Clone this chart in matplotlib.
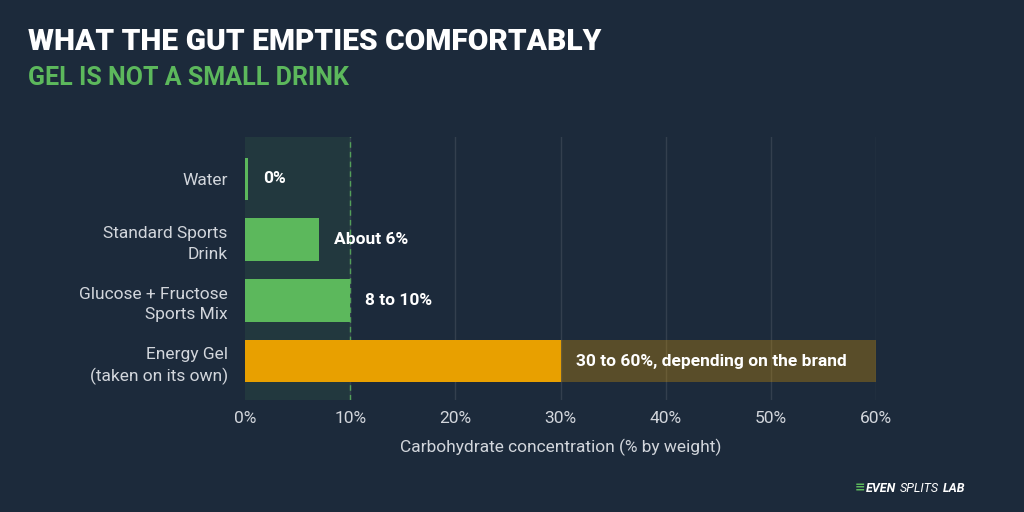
import numpy as np
import matplotlib.pyplot as plt

# data
categories = ['Water', 'Standard Sports\nDrink', 'Glucose + Fructose\nSports Mix',
              'Energy Gel\n(taken on its own)']
low_values = [0.3, 7, 10, 30]
high_values = [None, None, None, 60]
value_labels = ['0%', 'About 6%', '8 to 10%', '30 to 60%, depending on the brand']
xticks = [0, 10, 20, 30, 40, 50, 60]
comfort_limit = 10

BG = '#1c2a3b'
GREEN = '#5cb85c'
ORANGE = '#e8a000'
TXT = '#d2d6dc'

plt.rcParams['font.family'] = ['Roboto', 'DejaVu Sans']

fig = plt.figure(figsize=(10.24, 5.12), dpi=100, facecolor=BG)
ax = fig.add_axes([245 / 1024, 1 - 400 / 512, (876 - 245) / 1024, (400 - 137) / 512])
ax.set_facecolor(BG)

y = np.arange(len(categories))
ax.set_xlim(0, 60)
ax.set_ylim(3.64, -0.69)

# comfortable zone
ax.axvspan(0, comfort_limit, color=GREEN, alpha=0.1, lw=0, zorder=0)
ax.axvline(comfort_limit, color=GREEN, lw=1, ls=(0, (4, 3)), alpha=0.8, zorder=1)

for xt in xticks[1:]:
    ax.axvline(xt, color='#ffffff', alpha=0.1, lw=1, zorder=0.5)

for i, (lo, hi) in enumerate(zip(low_values, high_values)):
    col = ORANGE if hi is not None else GREEN
    ax.barh(y[i], lo, height=0.7, color=col, zorder=2)
    if hi is not None:
        ax.barh(y[i], hi - lo, left=lo, height=0.7, color=ORANGE, alpha=0.3, lw=0, zorder=2)
    ax.annotate(value_labels[i], (lo, y[i]), xytext=(11, 0), textcoords='offset points',
                va='center', ha='left', color='white', fontsize=12.5, fontweight='bold', zorder=3)

ax.set_yticks(y)
ax.set_yticklabels(categories, color=TXT, fontsize=12.5, linespacing=1.45)
ax.set_xticks(xticks)
ax.set_xticklabels([f'{t}%' for t in xticks], color=TXT, fontsize=12.5)
ax.tick_params(length=0, pad=8)
ax.tick_params(axis='y', pad=12.5)
ax.set_xlabel('Carbohydrate concentration (% by weight)', color=TXT, fontsize=12.5, labelpad=9)
for s in ax.spines.values():
    s.set_visible(False)

fig.text(28 / 1024, 1 - 42 / 512, 'WHAT THE GUT EMPTIES COMFORTABLY', color='white',
         fontsize=21.5, fontweight='heavy', va='center', ha='left')
fig.text(28 / 1024, 1 - 78 / 512, 'GEL IS NOT A SMALL DRINK', color=GREEN,
         fontsize=18, fontweight='bold', va='center', ha='left')

# logo
ly = 1 - 488 / 512
fig.text(855 / 1024, ly, '\u2261', color=GREEN, fontsize=9, fontweight='bold',
         va='center', ha='left', family='DejaVu Sans')
fig.text(866 / 1024, ly, 'EVEN', color='white', fontsize=9, fontweight='bold',
         style='italic', va='center', ha='left')
fig.text(900 / 1024, ly, 'SPLITS', color='white', fontsize=9,
         style='italic', va='center', ha='left')
fig.text(943 / 1024, ly, 'LAB', color='white', fontsize=9, fontweight='bold',
         style='italic', va='center', ha='left')

fig.savefig('out.png', dpi=100, facecolor=BG)
